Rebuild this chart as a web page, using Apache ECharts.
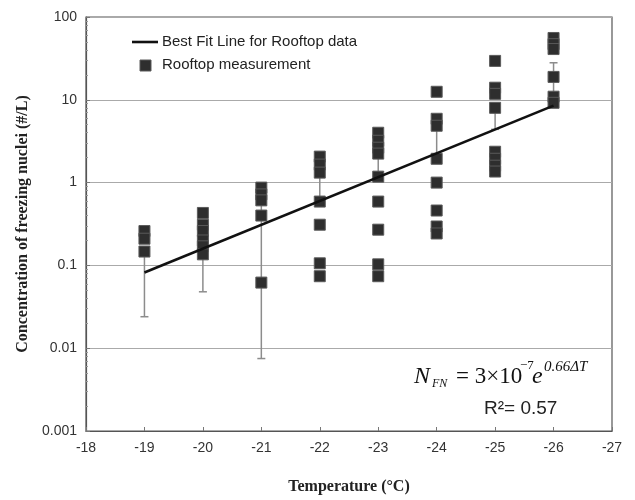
<!DOCTYPE html>
<html><head><meta charset="utf-8">
<script src="https://cdn.jsdelivr.net/npm/echarts@6/dist/echarts.min.js"></script>
<style>html,body{margin:0;padding:0;background:#fff}#c{width:635px;height:500px}</style>
</head><body><div id="c"></div>
<script>
// ---- data ----
const temperatures = [-19, -20, -21, -22, -23, -24, -25, -26];
const measurements = [
  [0.26, 0.21, 0.147],
  [0.43, 0.31, 0.26, 0.2, 0.17, 0.136],
  [0.87, 0.72, 0.61, 0.4, 0.062],
  [2.06, 1.65, 1.32, 0.59, 0.31, 0.106, 0.074],
  [4.0, 3.2, 2.64, 2.24, 1.18, 0.59, 0.27, 0.103, 0.074],
  [12.5, 5.9, 4.86, 1.94, 1.0, 0.46, 0.295, 0.243],
  [29.5, 14, 11.8, 8.0, 2.36, 1.94, 1.6, 1.36],
  [55.8, 47, 41, 18.9, 10.9, 9.2]
];
const errLow  = [0.024, 0.048, 0.0075, 0.59, 1.15, 1.94, 4.4, 8.5];
const errHigh = [0.147, 0.2, 0.61, 1.5, 2.3, 4.9, 8.0, 28];
const fitTemps  = [-19, -26];
const fitValues = [0.082, 8.5];
const xMin = -27, xMax = -18, xStep = 1;
const yMin = 0.001, yMax = 100;

// ---- build series data ----
const scatterData = [];
temperatures.forEach((t, i) => measurements[i].forEach(v => scatterData.push([t, v])));
const errData = temperatures.map((t, i) => [t, errLow[i], errHigh[i]]);
const fitData = fitTemps.map((t, i) => [t, fitValues[i]]);

const chart = echarts.init(document.getElementById('c'), null, {renderer: 'canvas'});
const tickFont = {fontFamily: 'Liberation Sans, Arial, sans-serif', fontSize: 14, color: '#333'};
const titleFont = {fontFamily: 'Liberation Serif, Times New Roman, serif', fontSize: 16, fontWeight: 'bold', color: '#222'};
const serif = '"Liberation Serif", "Times New Roman", serif';

chart.setOption({
  animation: false,
  backgroundColor: '#fff',
  grid: {left: 86, right: 23, top: 17, bottom: 67, show: true, borderColor: '#555', borderWidth: 1.2},
  xAxis: {
    type: 'value', min: xMin, max: xMax, interval: xStep, inverse: true,
    name: 'Temperature (°C)', nameLocation: 'middle', nameGap: 48, nameTextStyle: titleFont,
    axisLine: {show: true, lineStyle: {color: '#555', width: 1.2}},
    axisTick: {show: true, inside: true, length: 4, lineStyle: {color: '#777'}},
    axisLabel: Object.assign({margin: 10}, tickFont),
    splitLine: {show: false}
  },
  yAxis: {
    type: 'log', logBase: 10, min: yMin, max: yMax,
    name: 'Concentration of freezing nuclei (#/L)', nameLocation: 'middle', nameGap: 54, nameTextStyle: titleFont,
    axisLine: {show: true, lineStyle: {color: '#555', width: 1.2}},
    axisTick: {show: true, inside: true, length: 4, lineStyle: {color: '#777'}},
    minorTick: {show: true, splitNumber: 9, length: 2, lineStyle: {color: '#999'}},
    axisLabel: Object.assign({margin: 9}, tickFont),
    splitLine: {show: true, lineStyle: {color: '#aaa', width: 1}}
  },
  series: [
    {
      name: 'errors', type: 'custom', z: 2,
      encode: {x: 0, y: [1, 2]},
      data: errData,
      renderItem: function (params, api) {
        const x = api.value(0);
        const p1 = api.coord([x, api.value(1)]);
        const p2 = api.coord([x, api.value(2)]);
        const hw = 4, st = {stroke: '#8c8c8c', lineWidth: 1.5};
        return {type: 'group', children: [
          {type: 'line', shape: {x1: p1[0], y1: p1[1], x2: p2[0], y2: p2[1]}, style: st},
          {type: 'line', shape: {x1: p1[0] - hw, y1: p1[1], x2: p1[0] + hw, y2: p1[1]}, style: st},
          {type: 'line', shape: {x1: p2[0] - hw, y1: p2[1], x2: p2[0] + hw, y2: p2[1]}, style: st}
        ]};
      }
    },
    {
      name: 'Rooftop measurement', type: 'scatter', z: 3,
      symbol: 'rect', symbolSize: 11,
      itemStyle: {color: '#2e2e2e', borderColor: '#5a5a5a', borderWidth: 1, opacity: 1},
      data: scatterData
    },
    {
      name: 'Best Fit Line for Rooftop data', type: 'line', z: 4,
      symbol: 'none', lineStyle: {color: '#111', width: 2.6},
      data: fitData
    }
  ],
  graphic: [
    // legend
    {type: 'line', shape: {x1: 132, y1: 42, x2: 158, y2: 42}, style: {stroke: '#111', lineWidth: 2.6}},
    {type: 'text', left: 162, top: 34, style: {text: 'Best Fit Line for Rooftop data', font: '15px "Liberation Sans", Arial, sans-serif', fill: '#222'}},
    {type: 'rect', shape: {x: 140, y: 60, width: 11, height: 11}, style: {fill: '#2e2e2e', stroke: '#5a5a5a', lineWidth: 1}},
    {type: 'text', left: 162, top: 57, style: {text: 'Rooftop measurement', font: '15px "Liberation Sans", Arial, sans-serif', fill: '#222'}},
    // equation
    {type: 'text', x: 414, y: 377, style: {text: 'N', font: 'italic 24px ' + serif, fill: '#111', verticalAlign: 'middle'}},
    {type: 'text', x: 432, y: 384, style: {text: 'FN', font: 'italic 12px ' + serif, fill: '#111', verticalAlign: 'middle'}},
    {type: 'text', x: 456, y: 377, style: {text: '= 3×10', font: '23px ' + serif, fill: '#111', verticalAlign: 'middle'}},
    {type: 'text', x: 520, y: 366, style: {text: '−7', font: '13px ' + serif, fill: '#111', verticalAlign: 'middle'}},
    {type: 'text', x: 532, y: 377, style: {text: 'e', font: 'italic 24px ' + serif, fill: '#111', verticalAlign: 'middle'}},
    {type: 'text', x: 544, y: 367, style: {text: '0.66ΔT', font: 'italic 15px ' + serif, fill: '#111', verticalAlign: 'middle'}},
    {type: 'text', x: 484, y: 409, style: {text: 'R²= 0.57', font: '19px "Liberation Sans", Arial, sans-serif', fill: '#222', verticalAlign: 'middle'}}
  ]
});
</script>
</body></html>
